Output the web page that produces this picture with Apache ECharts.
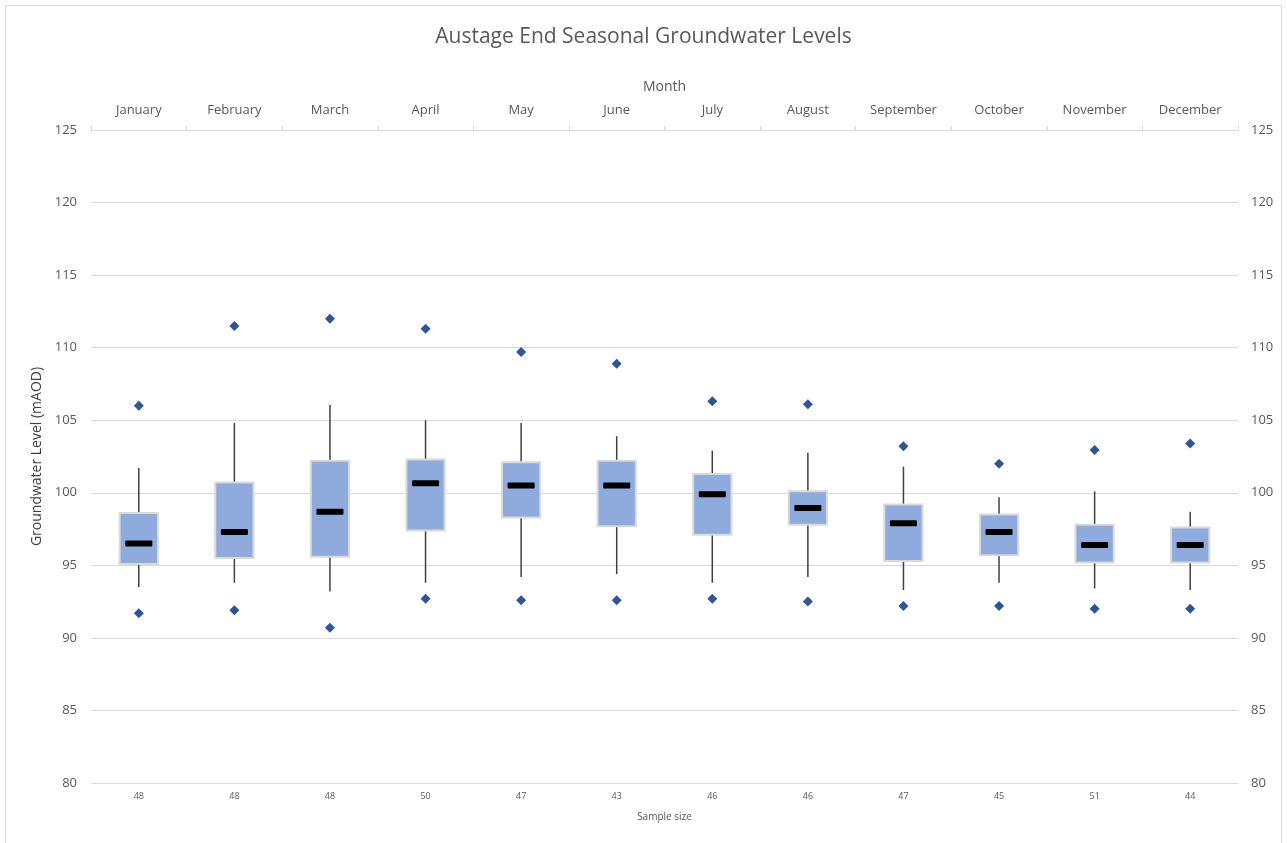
<!DOCTYPE html>
<html>
<head>
<meta charset="utf-8">
<script src="https://cdn.jsdelivr.net/npm/echarts@6/dist/echarts.min.js"></script>
<style>
html,body{margin:0;padding:0;background:#fff;}
#chart{width:1287px;height:843px;}
</style>
</head>
<body>
<div id="chart"></div>
<script>
var months = ['January','February','March','April','May','June','July','August','September','October','November','December'];
var sampleSize = [48,48,48,50,47,43,46,46,47,45,51,44];
var whiskerLow = [93.5,93.8,93.2,93.8,94.2,94.4,93.8,94.2,93.3,93.8,93.4,93.3];
var q1 =         [95.1,95.5,95.6,97.4,98.3,97.7,97.1,97.8,95.3,95.7,95.2,95.2];
var median =     [96.5,97.3,98.7,100.65,100.5,100.5,99.9,98.95,97.9,97.3,96.4,96.4];
var q3 =         [98.6,100.7,102.2,102.3,102.1,102.2,101.3,100.1,99.2,98.5,97.8,97.6];
var whiskerHigh =[101.7,104.8,106.05,105.0,104.8,103.9,102.9,102.75,101.8,99.7,100.1,98.7];
var outlierHigh =[106.0,111.5,112.0,111.3,109.7,108.9,106.3,106.1,103.2,102.0,102.95,103.4];
var outlierLow = [91.7,91.9,90.7,92.7,92.6,92.6,92.7,92.5,92.2,92.2,92.0,92.0];
var yTicks = [80,85,90,95,100,105,110,115,120,125];

var boxData = months.map(function(m,i){return [i, whiskerLow[i], q1[i], median[i], q3[i], whiskerHigh[i]];});
var outData = [];
months.forEach(function(m,i){ outData.push([i, outlierHigh[i]]); outData.push([i, outlierLow[i]]); });

var chart = echarts.init(document.getElementById('chart'));
var textColor = '#595959';
var option = {
  backgroundColor: '#fff',
  animation: false,
  title: {
    text: 'Austage End Seasonal Groundwater Levels',
    left: 'center', top: 22,
    textStyle: {color: textColor, fontSize: 21, fontWeight: 'normal', fontFamily: 'Open Sans'}
  },
  graphic: [{
    type: 'rect', shape: {x: 5.5, y: 5.5, width: 1276, height: 860},
    style: {fill: 'none', stroke: '#d9d9d9', lineWidth: 1}, silent: true
  }],
  grid: {left: 91, right: 49, top: 130, bottom: 60},
  xAxis: [{
    type: 'category', position: 'top', data: months,
    name: 'Month', nameLocation: 'middle', nameGap: 36,
    nameTextStyle: {color: textColor, fontSize: 14, fontFamily: 'Open Sans'},
    axisLine: {show: true, lineStyle: {color: '#d9d9d9', width: 1}},
    axisTick: {show: true, length: 4, lineStyle: {color: '#d9d9d9'}},
    axisLabel: {color: textColor, fontSize: 13, margin: 13, fontFamily: 'Open Sans'},
    splitLine: {show: false}
  },{
    type: 'category', position: 'bottom', data: sampleSize,
    name: 'Sample size', nameLocation: 'middle', nameGap: 29,
    nameTextStyle: {color: textColor, fontSize: 10, fontFamily: 'Open Sans'},
    axisLine: {show: false}, axisTick: {show: false},
    axisLabel: {color: textColor, fontSize: 9, margin: 9, fontFamily: 'Open Sans'}
  }],
  yAxis: [{
    type: 'value', min: 80, max: 125, interval: 5, position: 'left',
    name: 'Groundwater Level (mAOD)', nameLocation: 'middle', nameGap: 45,
    nameTextStyle: {color: '#404040', fontSize: 14, fontFamily: 'Open Sans'},
    axisLine: {show: false}, axisTick: {show: false},
    axisLabel: {color: textColor, fontSize: 13, margin: 14, fontFamily: 'Open Sans'},
    splitLine: {show: true, lineStyle: {color: '#d9d9d9', width: 1}}
  },{
    type: 'value', min: 80, max: 125, interval: 5, position: 'right',
    axisLine: {show: false}, axisTick: {show: false},
    axisLabel: {color: textColor, fontSize: 13, margin: 13, fontFamily: 'Open Sans'},
    splitLine: {show: false}
  }],
  series: [{
    type: 'custom',
    xAxisIndex: 0, yAxisIndex: 0,
    data: boxData,
    encode: {x: 0, y: [1,2,3,4,5]},
    renderItem: function(params, api){
      var idx = api.value(0);
      var pLow = api.coord([idx, api.value(1)]);
      var pQ1 = api.coord([idx, api.value(2)]);
      var pMed = api.coord([idx, api.value(3)]);
      var pQ3 = api.coord([idx, api.value(4)]);
      var pHigh = api.coord([idx, api.value(5)]);
      var bw = api.size([1,0])[0] * 0.40;
      var mw = 27;
      var x = pMed[0];
      return {
        type: 'group',
        children: [
          {type: 'line', shape: {x1: x, y1: pHigh[1], x2: x, y2: pQ3[1]}, style: {stroke: '#404040', lineWidth: 1.5}},
          {type: 'line', shape: {x1: x, y1: pQ1[1], x2: x, y2: pLow[1]}, style: {stroke: '#404040', lineWidth: 1.5}},
          {type: 'rect', shape: {x: x - bw/2, y: pQ3[1], width: bw, height: pQ1[1] - pQ3[1]},
           style: {fill: '#8faadc', stroke: '#d9d9d9', lineWidth: 2}},
          {type: 'rect', shape: {x: x - mw/2, y: pMed[1] - 3, width: mw, height: 6, r: 1},
           style: {fill: '#000000'}}
        ]
      };
    }
  },{
    type: 'scatter', xAxisIndex: 0, yAxisIndex: 0,
    data: outData, symbol: 'diamond', symbolSize: 10,
    itemStyle: {color: '#2f5597', opacity: 1}
  }]
};
chart.setOption(option);
</script>
</body>
</html>
